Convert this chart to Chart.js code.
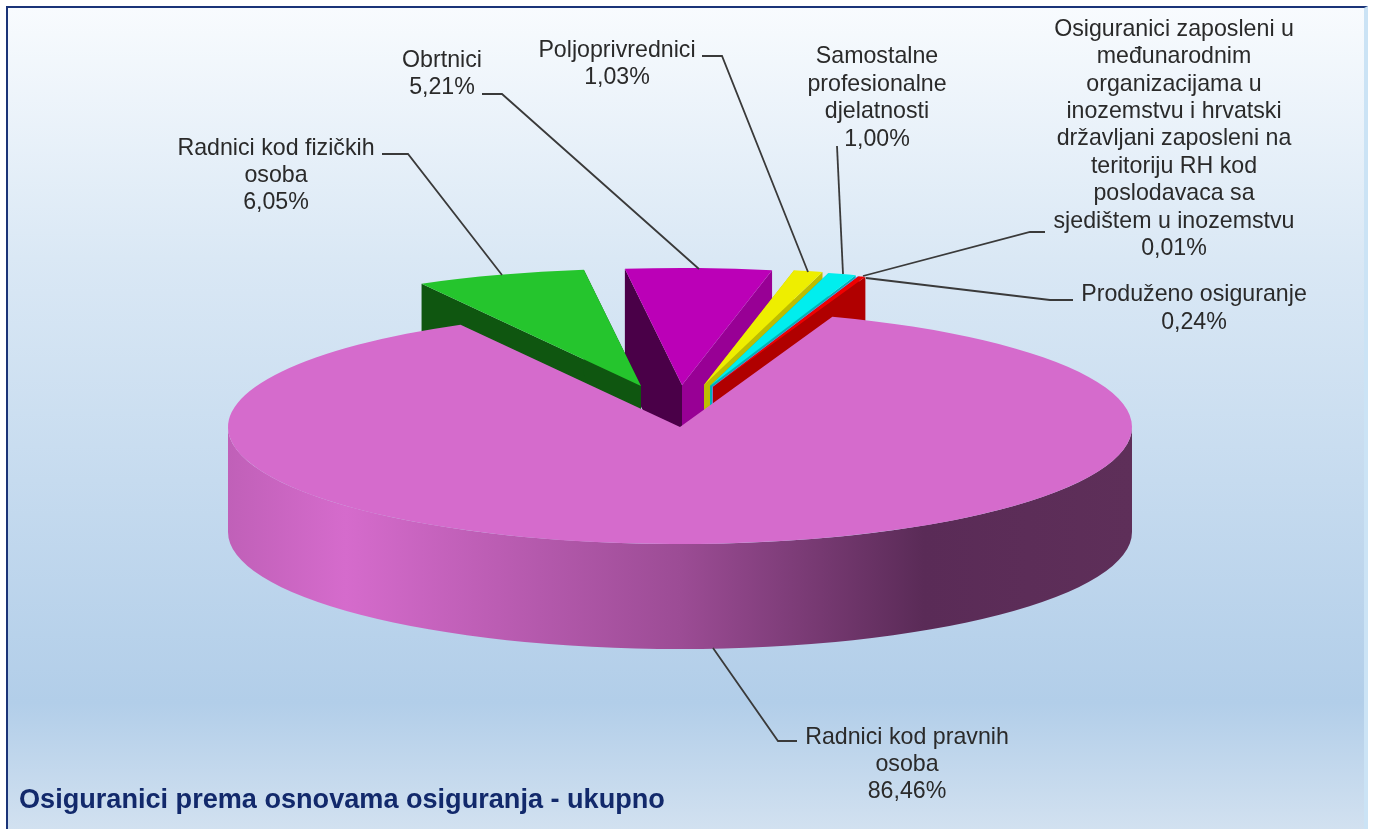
<!DOCTYPE html>
<html lang="hr">
<head>
<meta charset="utf-8">
<title>Osiguranici prema osnovama osiguranja</title>
<script src="https://cdn.jsdelivr.net/npm/chart.js@4"></script>
<style>
    html, body { margin: 0; padding: 0; background: #fff; overflow: hidden; }
    #okvir {
        position: absolute; left: 6px; top: 6px; width: 1362px; height: 840px;
        box-sizing: border-box;
        border-top: 2px solid #1b3478; border-left: 2px solid #1b3478;
        border-right: 4px solid #cbe3f5;
        background: linear-gradient(to bottom, #f8fbfe 0, #dae8f5 250px, #b2cee9 694px, #d2e1f0 823px);
    }
    #graf { position: absolute; left: 0; top: 0; }
</style>
</head>
<body>
<div id="okvir"></div>
<canvas id="graf" width="1373" height="829"></canvas>
<script>
// Podaci
const kategorije = [
    'Radnici kod pravnih osoba',
    'Radnici kod fizičkih osoba',
    'Obrtnici',
    'Poljoprivrednici',
    'Samostalne profesionalne djelatnosti',
    'Osiguranici zaposleni u međunarodnim organizacijama u inozemstvu i hrvatski državljani zaposleni na teritoriju RH kod poslodavaca sa sjedištem u inozemstvu',
    'Produženo osiguranje'
];
const vrijednosti = [86.46, 6.05, 5.21, 1.03, 1.00, 0.01, 0.24];
const naslov = 'Osiguranici prema osnovama osiguranja - ukupno';

// Redovi teksta u oznakama
const redoviOznaka = [
    ['Radnici kod pravnih', 'osoba'],
    ['Radnici kod fizičkih', 'osoba'],
    ['Obrtnici'],
    ['Poljoprivrednici'],
    ['Samostalne', 'profesionalne', 'djelatnosti'],
    ['Osiguranici zaposleni u', 'međunarodnim', 'organizacijama u', 'inozemstvu i hrvatski', 'državljani zaposleni na', 'teritoriju RH kod', 'poslodavaca sa', 'sjedištem u inozemstvu'],
    ['Produženo osiguranje']
];

// Izgled
const boje = ['#d56bcc', '#25c52d', '#bb00b7', '#eeee00', '#00eeee', '#9999ff', '#f00000'];
const bojeLijevo = [null, '#0f5610', '#4a0048', '#c8c800', '#00b4b4', '#7777cc', '#b00000'];
const bojeDesno = [null, '#0f5610', '#980095', '#bdbd00', '#00b4b4', '#7777cc', '#b00000'];
const pomakX = [0, -39, 2, 24, 30, 32, 33];
const pomakY = [0, -41, -42, -42, -41, -40, -40];
const DUBINA = 105;
const redCrtanja = [2, 1, 3, 4, 5, 6, 0];

const oznakaX = [907, 276, 442, 617, 877, 1174, 1194];
const oznakaY = [737.5, 148.5, 61, 51, 57, 29.5, 295];
const visinaReda = [27, 27, 27, 27, 27.5, 27.4, 28];
const vodilice = [
    [[797, 741], [778, 741], [713, 648]],
    [[382, 154], [408, 154], [502, 275]],
    [[482, 94], [502, 94], [699, 269]],
    [[702, 56], [722, 56], [808, 272]],
    [[837, 146], [843, 274]],
    [[1045, 232], [1030, 232], [863, 276]],
    [[1073, 300], [1050, 300], [866, 278]]
];

const CX = 680, CY = 427, RADIJUS = 452, SPLJOST = 0.259;

// Kontroler: obična pita, ali spljoštena i s visinom
class Pita3D extends Chart.PieController {
    draw() {
        const ctx = this.chart.ctx;
        const lukovi = this.getMeta().data;

        redCrtanja.forEach(i => {
            const luk = lukovi[i];
            const { x, y, startAngle, endAngle, outerRadius } = luk.getProps(['x', 'y', 'startAngle', 'endAngle', 'outerRadius']);
            const ox = CX + pomakX[i], oy = CY + pomakY[i];
            const rub = a => [ox + outerRadius * Math.cos(a), oy + outerRadius * SPLJOST * Math.sin(a)];

            // Rezne plohe
            [[startAngle, bojeLijevo[i]], [endAngle, bojeDesno[i]]].forEach(([a, boja]) => {
                if (!boja) return;
                const [rx, ry] = rub(a);
                ctx.fillStyle = boja;
                ctx.beginPath();
                ctx.moveTo(ox, oy);
                ctx.lineTo(rx, ry);
                ctx.lineTo(rx, ry + DUBINA);
                ctx.lineTo(ox, oy + DUBINA);
                ctx.closePath();
                ctx.fill();
            });

            // Prednji plašt
            const od = Math.max(startAngle, 0), doKuta = Math.min(endAngle, Math.PI);
            if (doKuta > od) {
                const grad = ctx.createLinearGradient(ox + outerRadius, 0, ox - outerRadius, 0);
                grad.addColorStop(0, '#5e2f59');
                grad.addColorStop(0.23, '#5a2b57');
                grad.addColorStop(0.5, '#9c4c95');
                grad.addColorStop(0.87, '#d56bcc');
                grad.addColorStop(1, '#c060b8');
                ctx.fillStyle = grad;
                ctx.beginPath();
                ctx.ellipse(ox, oy, outerRadius, outerRadius * SPLJOST, 0, od, doKuta);
                ctx.ellipse(ox, oy + DUBINA, outerRadius, outerRadius * SPLJOST, 0, doKuta, od, true);
                ctx.closePath();
                ctx.fill();
            }

            // Gornja ploha
            ctx.save();
            ctx.translate(ox, oy);
            ctx.scale(1, SPLJOST);
            ctx.translate(-x, -y);
            luk.draw(ctx);
            ctx.restore();
        });
    }
}
Pita3D.id = 'pita3d';
Chart.register(Pita3D);

// Vodilice i tekst oznaka
const oznakePlugin = {
    id: 'oznake',
    afterDatasetsDraw(chart) {
        const ctx = chart.ctx;
        ctx.save();
        ctx.strokeStyle = '#3a3a3a';
        ctx.lineWidth = 1.8;
        vodilice.forEach(tocke => {
            ctx.beginPath();
            tocke.forEach(([x, y], n) => n ? ctx.lineTo(x, y) : ctx.moveTo(x, y));
            ctx.stroke();
        });
        ctx.fillStyle = '#2a2a2a';
        ctx.font = '23.2px "Liberation Sans", Arial, sans-serif';
        ctx.textAlign = 'center';
        ctx.textBaseline = 'middle';
        vrijednosti.forEach((v, i) => {
            const redovi = [...redoviOznaka[i], v.toFixed(2).replace('.', ',') + '%'];
            redovi.forEach((tekst, n) => {
                ctx.fillText(tekst, oznakaX[i], oznakaY[i] + n * visinaReda[i]);
            });
        });
        ctx.restore();
    }
};

new Chart(document.getElementById('graf'), {
    type: 'pita3d',
    data: {
        labels: kategorije,
        datasets: [{
            data: vrijednosti,
            backgroundColor: boje,
            borderWidth: 0,
            radius: RADIJUS,
            clip: false
        }]
    },
    options: {
        responsive: false,
        animation: false,
        rotation: 19.7,
        layout: { padding: { left: 19, bottom: 12 } },
        plugins: {
            legend: { display: false },
            tooltip: { enabled: false },
            title: {
                display: true,
                text: naslov,
                position: 'bottom',
                align: 'start',
                color: '#12296b',
                font: { family: '"Liberation Sans", Arial, sans-serif', size: 27.1, weight: 'bold' },
                padding: 0
            }
        }
    },
    plugins: [oznakePlugin]
});
</script>
</body>
</html>
